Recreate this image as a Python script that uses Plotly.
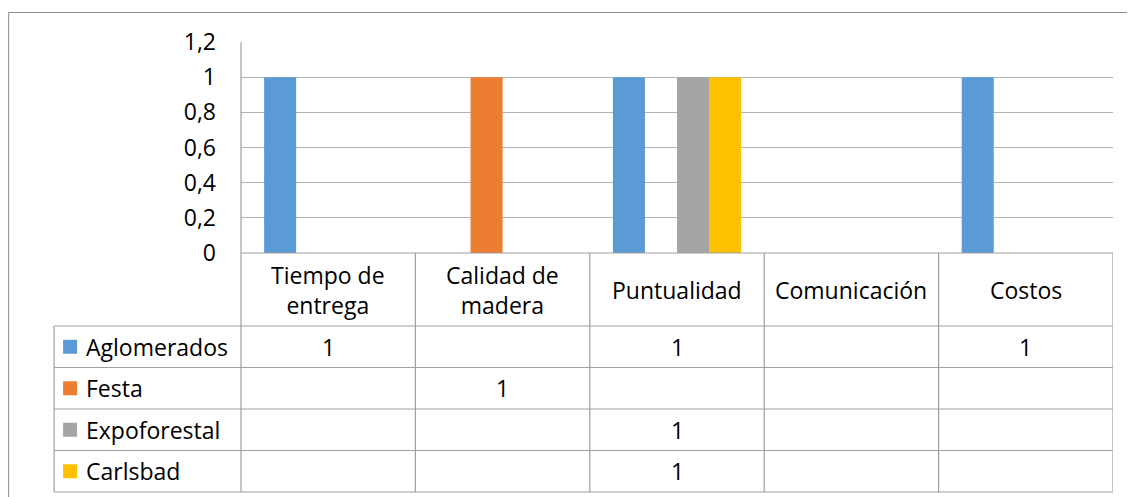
import plotly.graph_objects as go

# ==========================================================
# Data
# ==========================================================

categories = [
    "Tiempo de<br>entrega",
    "Calidad de<br>madera",
    "Puntualidad",
    "Comunicación",
    "Costos",
]

aglomerados = [1, None, 1, None, 1]
festa = [None, 1, None, None, None]
expoforestal = [None, None, 1, None, None]
carlsbad = [None, None, 1, None, None]

series_names = ["Aglomerados", "Festa", "Expoforestal", "Carlsbad"]
series_values = [aglomerados, festa, expoforestal, carlsbad]
series_colors = ["#5B9BD5", "#ED7D31", "#A5A5A5", "#FFC000"]

y_ticks = [0, 0.2, 0.4, 0.6, 0.8, 1.0, 1.2]

# ==========================================================
# Geometry (pixels, page coords; the page body adds 8px)
# ==========================================================

OFF = 8
W, H = 1135 - OFF, 497 - OFF
PLOT_L, PLOT_R = 241 - OFF, 1113.5 - OFF
PLOT_T, PLOT_B = 42 - OFF, 253 - OFF
HEADER_B = 326 - OFF
ROW_H = 41.5
TABLE_L = 54 - OFF
FONT = "Open Sans"
FS = 23
LINE = "#a0a0a0"


def px(x):
    return (x - PLOT_L) / (PLOT_R - PLOT_L)


def py(y):
    return (PLOT_B - y) / (PLOT_B - PLOT_T)


fig = go.Figure()

for name, vals, color in zip(series_names, series_values, series_colors):
    fig.add_trace(
        go.Bar(
            x=list(range(len(categories))),
            y=vals,
            name=name,
            marker=dict(color=color, line=dict(width=0)),
        )
    )

shapes = []
annotations = []

# outer chart border
shapes.append(dict(type="line", xref="paper", yref="paper",
                   x0=px(0.5), x1=px(W + 5), y0=py(12.5 - OFF), y1=py(12.5 - OFF),
                   line=dict(color="#8c8c8c", width=1)))
shapes.append(dict(type="line", xref="paper", yref="paper",
                   x0=px(0.5), x1=px(0.5), y0=py(12.5 - OFF), y1=py(H + 5),
                   line=dict(color="#8c8c8c", width=1)))

TABLE_B = HEADER_B + 4 * ROW_H

# left axis line through plot and header
shapes.append(dict(type="line", xref="paper", yref="paper",
                   x0=0, x1=0, y0=1, y1=py(TABLE_B),
                   line=dict(color=LINE, width=1.2)))

# column separators
n = len(categories)
for i in range(1, n + 1):
    shapes.append(dict(type="line", xref="x", yref="paper",
                       x0=i - 0.5, x1=i - 0.5,
                       y0=0, y1=py(TABLE_B),
                       line=dict(color=LINE, width=1.2)))

# header top line (axis)
shapes.append(dict(type="line", xref="paper", yref="paper",
                   x0=0, x1=1, y0=0, y1=0,
                   line=dict(color=LINE, width=1.2)))

# row lines
for r in range(len(series_names) + 1):
    yy = py(HEADER_B + r * ROW_H)
    shapes.append(dict(type="line", xref="paper", yref="paper",
                       x0=px(TABLE_L), x1=1, y0=yy, y1=yy,
                       line=dict(color=LINE, width=1.2)))

shapes.append(dict(type="line", xref="paper", yref="paper",
                   x0=px(TABLE_L), x1=px(TABLE_L),
                   y0=py(HEADER_B), y1=py(TABLE_B),
                   line=dict(color=LINE, width=1.2)))

# header labels
for i, cat in enumerate(categories):
    annotations.append(dict(
        x=i, xref="x", y=py((PLOT_B + HEADER_B) / 2), yref="paper",
        text=cat, showarrow=False, xanchor="center", yanchor="middle",
        font=dict(family=FONT, size=FS, color="black"),
    ))

# data rows
for r, (name, vals, color) in enumerate(zip(series_names, series_values, series_colors)):
    yc = HEADER_B + (r + 0.5) * ROW_H
    shapes.append(dict(type="rect", xref="paper", yref="paper",
                       x0=px(63 - OFF), x1=px(77 - OFF), y0=py(yc - 7), y1=py(yc + 7),
                       fillcolor=color, line=dict(width=0)))
    annotations.append(dict(
        x=px(84 - OFF), xref="paper", y=py(yc), yref="paper",
        text=name, showarrow=False, xanchor="left", yanchor="middle",
        font=dict(family=FONT, size=FS, color="black"),
    ))
    for i, v in enumerate(vals):
        if v is None:
            continue
        annotations.append(dict(
            x=i, xref="x", y=py(yc), yref="paper",
            text=f"{v:g}", showarrow=False, xanchor="center", yanchor="middle",
            font=dict(family=FONT, size=FS, color="black"),
        ))

fig.update_layout(
    width=W,
    height=H,
    margin=dict(l=PLOT_L, r=W - PLOT_R, t=PLOT_T, b=H - PLOT_B, pad=0),
    paper_bgcolor="white",
    plot_bgcolor="white",
    barmode="group",
    bargap=0.265,
    bargroupgap=0,
    showlegend=False,
    separators=", ",
    font=dict(family=FONT, size=FS, color="black"),
    xaxis=dict(
        range=[-0.5, n - 0.5],
        showticklabels=False,
        showgrid=False,
        zeroline=False,
        showline=False,
        fixedrange=True,
    ),
    yaxis=dict(
        range=[0, 1.2],
        tickvals=y_ticks,
        showgrid=True,
        gridcolor="#b3b3b3",
        gridwidth=1.2,
        zeroline=False,
        showline=False,
        ticks="",
        ticklabelstandoff=24,
        tickfont=dict(family=FONT, size=FS, color="black"),
    ),
    shapes=shapes,
    annotations=annotations,
)

fig.write_html("out.html")
